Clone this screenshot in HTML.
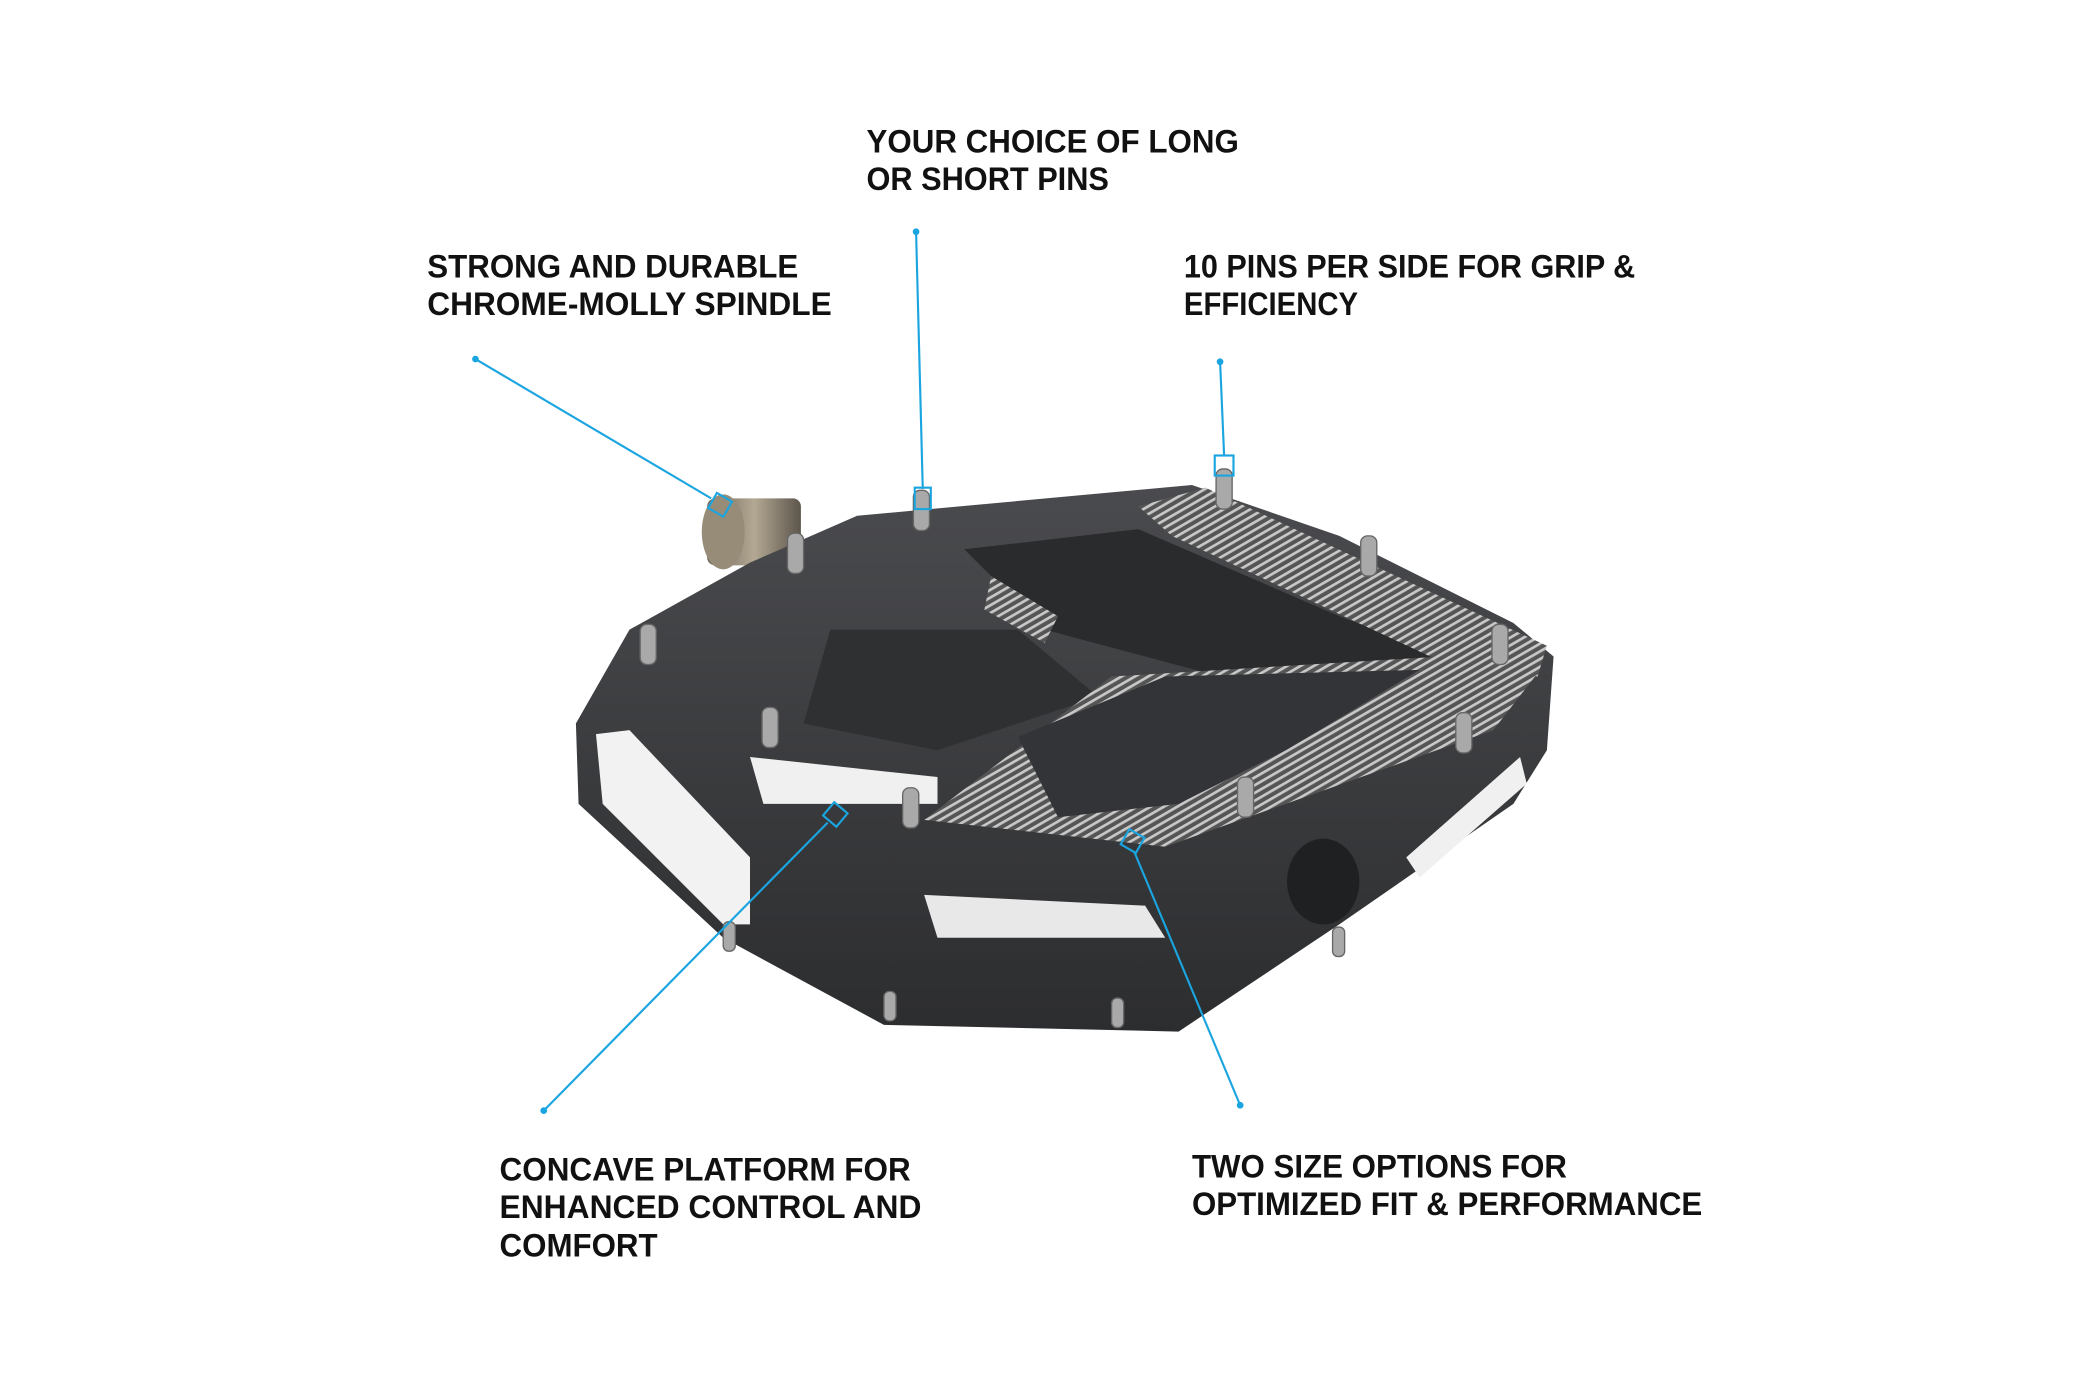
<!DOCTYPE html>
<html><head><meta charset="utf-8"><style>
html,body{margin:0;padding:0;background:#fff;}
svg{display:block;}
text{font-family:"Liberation Sans",sans-serif;font-weight:bold;font-size:24px;fill:#111;}
</style></head><body>
<svg width="2100" height="1400" viewBox="0 0 1568 1045" preserveAspectRatio="none" xmlns="http://www.w3.org/2000/svg">
<defs>
<pattern id="hatch" width="5" height="5" patternUnits="userSpaceOnUse" patternTransform="rotate(60)">
<rect width="5" height="5" fill="#555"/><rect width="2" height="5" fill="#c8c8c8"/>
</pattern>
<linearGradient id="body" x1="0" y1="0" x2="0" y2="1">
<stop offset="0" stop-color="#4a4b4e"/><stop offset="1" stop-color="#2c2d2f"/>
</linearGradient>
<linearGradient id="spin" x1="0" y1="0" x2="1" y2="0">
<stop offset="0" stop-color="#6f665a"/><stop offset="0.5" stop-color="#b3a893"/><stop offset="1" stop-color="#5c554b"/>
</linearGradient>
</defs>

<!-- spindle -->
<rect x="528" y="372" width="70" height="50" fill="url(#spin)" rx="6"/>
<ellipse cx="540" cy="397" rx="16" ry="28" fill="#978c78"/>

<!-- body -->
<polygon points="470,470 560,420 640,385 890,362 1000,400 1130,465 1160,490 1155,560 1130,600 1000,690 880,770 660,765 540,700 432,600 430,540" fill="url(#body)"/>
<!-- side openings -->
<polygon points="445,548 470,545 560,640 560,690 540,690 450,600" fill="#f2f2f2"/>
<polygon points="690,668 855,676 870,700 700,700" fill="#e8e8e8"/>
<polygon points="560,565 700,580 700,600 570,600" fill="#f0f0f0"/>
<ellipse cx="988" cy="658" rx="27" ry="32" fill="#1f2022"/>
<polygon points="1050,640 1135,565 1140,585 1060,655" fill="#f0f0f0"/>
<!-- top inner recesses -->
<polygon points="720,410 850,395 1000,460 1080,490 930,510 780,470" fill="#2a2b2d"/>
<polygon points="620,470 760,470 820,520 700,560 600,540" fill="#2f3032"/>
<!-- hatched bands -->
<polygon points="850,378 900,364 1155,482 1148,505 1085,498 875,400" fill="url(#hatch)"/>
<polygon points="690,612 830,505 1110,488 1150,500 1115,545 960,600 870,632" fill="url(#hatch)"/>
<polygon points="760,550 870,505 1060,500 960,560 880,600 790,610" fill="#333437"/>
<polygon points="740,430 790,460 780,480 735,455" fill="url(#hatch)"/>

<!-- pins -->
<g fill="#a9a9a9" stroke="#666" stroke-width="1">
<rect x="682" y="366" width="12" height="30" rx="5"/>
<rect x="588" y="398" width="12" height="30" rx="5"/>
<rect x="478" y="466" width="12" height="30" rx="5"/>
<rect x="569" y="528" width="12" height="30" rx="5"/>
<rect x="674" y="588" width="12" height="30" rx="5"/>
<rect x="908" y="350" width="12" height="30" rx="5"/>
<rect x="1016" y="400" width="12" height="30" rx="5"/>
<rect x="1114" y="466" width="12" height="30" rx="5"/>
<rect x="1087" y="532" width="12" height="30" rx="5"/>
<rect x="924" y="580" width="12" height="30" rx="5"/>
<rect x="540" y="688" width="9" height="22" rx="4"/>
<rect x="660" y="740" width="9" height="22" rx="4"/>
<rect x="830" y="745" width="9" height="22" rx="4"/>
<rect x="995" y="692" width="9" height="22" rx="4"/>
</g>

<!-- leader lines -->
<g stroke="#1ba5e0" stroke-width="1.6" fill="none">
<line x1="355" y1="268" x2="531" y2="372"/>
<line x1="684" y1="173" x2="689" y2="365"/>
<line x1="911" y1="270" x2="914" y2="340"/>
<line x1="406" y1="829" x2="618" y2="614"/>
<line x1="926" y1="825" x2="847" y2="636"/>
<rect x="531" y="370" width="13" height="13" transform="rotate(30 537 377)"/>
<rect x="683" y="364" width="12" height="16"/>
<rect x="907" y="340" width="14" height="15"/>
<rect x="617" y="601" width="13" height="13" transform="rotate(40 623 608)"/>
<rect x="839" y="621" width="13" height="13" transform="rotate(30 845 628)"/>
</g>
<g fill="#1ba5e0">
<circle cx="355" cy="268" r="2.5"/><circle cx="684" cy="173" r="2.5"/><circle cx="911" cy="270" r="2.5"/>
<circle cx="406" cy="829" r="2.5"/><circle cx="926" cy="825" r="2.5"/>
</g>

<!-- labels -->
<text x="647" y="114" textLength="278" lengthAdjust="spacingAndGlyphs">YOUR CHOICE OF LONG</text>
<text x="647" y="142" textLength="181" lengthAdjust="spacingAndGlyphs">OR SHORT PINS</text>
<text x="319" y="207" textLength="277" lengthAdjust="spacingAndGlyphs">STRONG AND DURABLE</text>
<text x="319" y="235" textLength="302" lengthAdjust="spacingAndGlyphs">CHROME-MOLLY SPINDLE</text>
<text x="884" y="207" textLength="337" lengthAdjust="spacingAndGlyphs">10 PINS PER SIDE FOR GRIP &amp;</text>
<text x="884" y="235" textLength="130" lengthAdjust="spacingAndGlyphs">EFFICIENCY</text>
<text x="373" y="881" textLength="307" lengthAdjust="spacingAndGlyphs">CONCAVE PLATFORM FOR</text>
<text x="373" y="909" textLength="315" lengthAdjust="spacingAndGlyphs">ENHANCED CONTROL AND</text>
<text x="373" y="938" textLength="118" lengthAdjust="spacingAndGlyphs">COMFORT</text>
<text x="890" y="879" textLength="280" lengthAdjust="spacingAndGlyphs">TWO SIZE OPTIONS FOR</text>
<text x="890" y="907" textLength="381" lengthAdjust="spacingAndGlyphs">OPTIMIZED FIT &amp; PERFORMANCE</text>
</svg>
</body></html>
